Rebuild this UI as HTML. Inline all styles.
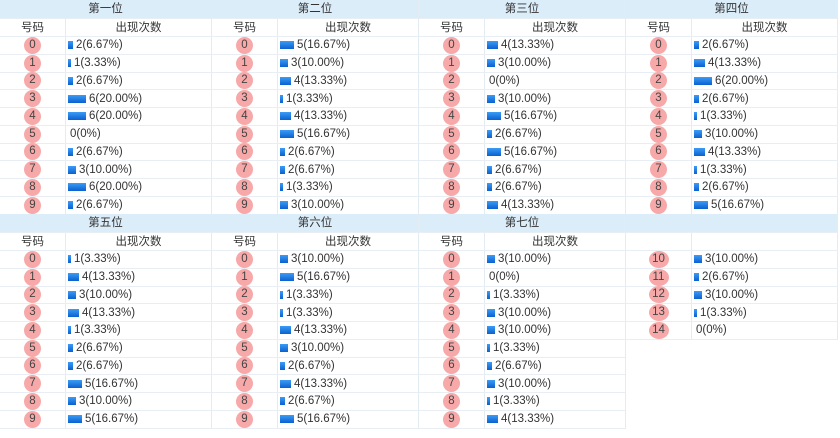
<!DOCTYPE html>
<html><head><meta charset="utf-8"><style>
*{margin:0;padding:0;box-sizing:border-box}
body{width:840px;height:438px;background:#fff;font-family:"Liberation Sans","Noto Sans CJK SC",sans-serif;font-size:11.5px;color:#333;position:relative;overflow:hidden}
.g{position:absolute;border-right:1px solid #e3ecf3}
.h{height:19px;background:#dcedfa;text-align:center;line-height:19px;font-size:11.5px;border-bottom:1px solid #e8eef3}
.s{height:18px;display:flex;line-height:18px;border-bottom:1px solid #e8eef3}
.s span:first-child{width:66px;text-align:center;border-right:1px solid #e3ecf3}
.s span:last-child{flex:1;text-align:center}
.r{height:17.75px;display:flex;align-items:center;border-bottom:1px solid #e8eef3}
.r i{font-style:normal;width:66px;height:100%;border-right:1px solid #e3ecf3;display:flex;align-items:center;justify-content:center}
.r i em{font-style:normal;display:inline-block;width:17px;height:17px;border-radius:50%;background:#f7a8a8;text-align:center;line-height:17px;font-size:11.5px;color:#444}
.r i em.w{width:20px}
.r b{display:inline-block;height:8px;margin-left:2px;margin-right:3px;background:linear-gradient(#3b9cf5,#0a60d0)}
.r b.z{width:0;margin-right:2px}
</style></head><body>

<div class="g" style="left:0;top:0;width:212px">
<div class="h">第一位</div><div class="s"><span>号码</span><span>出现次数</span></div>
<div class="r"><i><em>0</em></i><b style="width:5px"></b>2(6.67%)</div>
<div class="r"><i><em>1</em></i><b style="width:3px"></b>1(3.33%)</div>
<div class="r"><i><em>2</em></i><b style="width:5px"></b>2(6.67%)</div>
<div class="r"><i><em>3</em></i><b style="width:18px"></b>6(20.00%)</div>
<div class="r"><i><em>4</em></i><b style="width:18px"></b>6(20.00%)</div>
<div class="r"><i><em>5</em></i><b class="z"></b>0(0%)</div>
<div class="r"><i><em>6</em></i><b style="width:5px"></b>2(6.67%)</div>
<div class="r"><i><em>7</em></i><b style="width:8px"></b>3(10.00%)</div>
<div class="r"><i><em>8</em></i><b style="width:18px"></b>6(20.00%)</div>
<div class="r"><i><em>9</em></i><b style="width:5px"></b>2(6.67%)</div>
</div>

<div class="g" style="left:212px;top:0;width:207px">
<div class="h">第二位</div><div class="s"><span>号码</span><span>出现次数</span></div>
<div class="r"><i><em>0</em></i><b style="width:14px"></b>5(16.67%)</div>
<div class="r"><i><em>1</em></i><b style="width:8px"></b>3(10.00%)</div>
<div class="r"><i><em>2</em></i><b style="width:11px"></b>4(13.33%)</div>
<div class="r"><i><em>3</em></i><b style="width:3px"></b>1(3.33%)</div>
<div class="r"><i><em>4</em></i><b style="width:11px"></b>4(13.33%)</div>
<div class="r"><i><em>5</em></i><b style="width:14px"></b>5(16.67%)</div>
<div class="r"><i><em>6</em></i><b style="width:5px"></b>2(6.67%)</div>
<div class="r"><i><em>7</em></i><b style="width:5px"></b>2(6.67%)</div>
<div class="r"><i><em>8</em></i><b style="width:3px"></b>1(3.33%)</div>
<div class="r"><i><em>9</em></i><b style="width:8px"></b>3(10.00%)</div>
</div>

<div class="g" style="left:419px;top:0;width:207px">
<div class="h">第三位</div><div class="s"><span>号码</span><span>出现次数</span></div>
<div class="r"><i><em>0</em></i><b style="width:11px"></b>4(13.33%)</div>
<div class="r"><i><em>1</em></i><b style="width:8px"></b>3(10.00%)</div>
<div class="r"><i><em>2</em></i><b class="z"></b>0(0%)</div>
<div class="r"><i><em>3</em></i><b style="width:8px"></b>3(10.00%)</div>
<div class="r"><i><em>4</em></i><b style="width:14px"></b>5(16.67%)</div>
<div class="r"><i><em>5</em></i><b style="width:5px"></b>2(6.67%)</div>
<div class="r"><i><em>6</em></i><b style="width:14px"></b>5(16.67%)</div>
<div class="r"><i><em>7</em></i><b style="width:5px"></b>2(6.67%)</div>
<div class="r"><i><em>8</em></i><b style="width:5px"></b>2(6.67%)</div>
<div class="r"><i><em>9</em></i><b style="width:11px"></b>4(13.33%)</div>
</div>

<div class="g" style="left:626px;top:0;width:212px">
<div class="h">第四位</div><div class="s"><span>号码</span><span>出现次数</span></div>
<div class="r"><i><em>0</em></i><b style="width:5px"></b>2(6.67%)</div>
<div class="r"><i><em>1</em></i><b style="width:11px"></b>4(13.33%)</div>
<div class="r"><i><em>2</em></i><b style="width:18px"></b>6(20.00%)</div>
<div class="r"><i><em>3</em></i><b style="width:5px"></b>2(6.67%)</div>
<div class="r"><i><em>4</em></i><b style="width:3px"></b>1(3.33%)</div>
<div class="r"><i><em>5</em></i><b style="width:8px"></b>3(10.00%)</div>
<div class="r"><i><em>6</em></i><b style="width:11px"></b>4(13.33%)</div>
<div class="r"><i><em>7</em></i><b style="width:3px"></b>1(3.33%)</div>
<div class="r"><i><em>8</em></i><b style="width:5px"></b>2(6.67%)</div>
<div class="r"><i><em>9</em></i><b style="width:14px"></b>5(16.67%)</div>
</div>

<div class="g" style="left:0;top:214px;width:212px">
<div class="h">第五位</div><div class="s"><span>号码</span><span>出现次数</span></div>
<div class="r"><i><em>0</em></i><b style="width:3px"></b>1(3.33%)</div>
<div class="r"><i><em>1</em></i><b style="width:11px"></b>4(13.33%)</div>
<div class="r"><i><em>2</em></i><b style="width:8px"></b>3(10.00%)</div>
<div class="r"><i><em>3</em></i><b style="width:11px"></b>4(13.33%)</div>
<div class="r"><i><em>4</em></i><b style="width:3px"></b>1(3.33%)</div>
<div class="r"><i><em>5</em></i><b style="width:5px"></b>2(6.67%)</div>
<div class="r"><i><em>6</em></i><b style="width:5px"></b>2(6.67%)</div>
<div class="r"><i><em>7</em></i><b style="width:14px"></b>5(16.67%)</div>
<div class="r"><i><em>8</em></i><b style="width:8px"></b>3(10.00%)</div>
<div class="r"><i><em>9</em></i><b style="width:14px"></b>5(16.67%)</div>
</div>

<div class="g" style="left:212px;top:214px;width:207px">
<div class="h">第六位</div><div class="s"><span>号码</span><span>出现次数</span></div>
<div class="r"><i><em>0</em></i><b style="width:8px"></b>3(10.00%)</div>
<div class="r"><i><em>1</em></i><b style="width:14px"></b>5(16.67%)</div>
<div class="r"><i><em>2</em></i><b style="width:3px"></b>1(3.33%)</div>
<div class="r"><i><em>3</em></i><b style="width:3px"></b>1(3.33%)</div>
<div class="r"><i><em>4</em></i><b style="width:11px"></b>4(13.33%)</div>
<div class="r"><i><em>5</em></i><b style="width:8px"></b>3(10.00%)</div>
<div class="r"><i><em>6</em></i><b style="width:5px"></b>2(6.67%)</div>
<div class="r"><i><em>7</em></i><b style="width:11px"></b>4(13.33%)</div>
<div class="r"><i><em>8</em></i><b style="width:5px"></b>2(6.67%)</div>
<div class="r"><i><em>9</em></i><b style="width:14px"></b>5(16.67%)</div>
</div>

<div class="g" style="left:419px;top:214px;width:207px">
<div class="h">第七位</div><div class="s"><span>号码</span><span>出现次数</span></div>
<div class="r"><i><em>0</em></i><b style="width:8px"></b>3(10.00%)</div>
<div class="r"><i><em>1</em></i><b class="z"></b>0(0%)</div>
<div class="r"><i><em>2</em></i><b style="width:3px"></b>1(3.33%)</div>
<div class="r"><i><em>3</em></i><b style="width:8px"></b>3(10.00%)</div>
<div class="r"><i><em>4</em></i><b style="width:8px"></b>3(10.00%)</div>
<div class="r"><i><em>5</em></i><b style="width:3px"></b>1(3.33%)</div>
<div class="r"><i><em>6</em></i><b style="width:5px"></b>2(6.67%)</div>
<div class="r"><i><em>7</em></i><b style="width:8px"></b>3(10.00%)</div>
<div class="r"><i><em>8</em></i><b style="width:3px"></b>1(3.33%)</div>
<div class="r"><i><em>9</em></i><b style="width:11px"></b>4(13.33%)</div>
</div>

<div class="g" style="left:626px;top:214px;width:212px">
<div class="h">&nbsp;</div><div class="s"><span style="border-right:1px solid #e3ecf3">&nbsp;</span><span></span></div>
<div class="r"><i><em class="w">10</em></i><b style="width:8px"></b>3(10.00%)</div>
<div class="r"><i><em class="w">11</em></i><b style="width:5px"></b>2(6.67%)</div>
<div class="r"><i><em class="w">12</em></i><b style="width:8px"></b>3(10.00%)</div>
<div class="r"><i><em class="w">13</em></i><b style="width:3px"></b>1(3.33%)</div>
<div class="r"><i><em class="w">14</em></i><b class="z"></b>0(0%)</div>
</div>

</body></html>
